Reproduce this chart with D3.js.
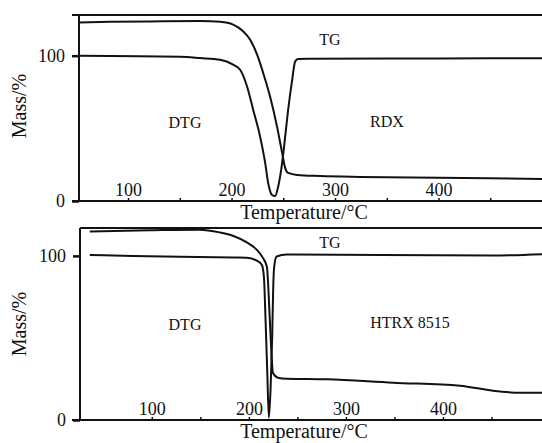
<!DOCTYPE html>
<html>
<head>
<meta charset="utf-8">
<script src="https://cdn.jsdelivr.net/npm/d3@7"></script>
<style>
  body { margin: 0; background: #fff; }
  text { font-family: "Liberation Serif", "Times New Roman", serif; fill: #111; }
</style>
</head>
<body>
<div id="chart"></div>
<script>
// x ticks every 50 degC, labels only on the hundreds
const xTicks = [100, 150, 200, 250, 300, 350, 400, 450];
const xTickLabels = [100, 200, 300, 400];
const yTicks = [0, 100];

// RDX (top panel)
const rdxTgTemp = [52.6, 82.6, 121, 169.6, 189, 201.5, 211.2, 218, 224.7, 230.5, 237.3, 244, 248.9, 251.8, 254.7, 263.4, 285.6, 324.3, 400, 500];
const rdxTgMass = [122.8, 123.3, 123.6, 123.9, 123.3, 121.4, 116.8, 111, 100.7, 88.3, 71.7, 51, 33.1, 22.8, 19.3, 17.9, 17.2, 16.6, 16, 15.2];
const rdxDtgTemp = [52.6, 150.3, 169.6, 189, 201.5, 208.3, 215, 220.9, 227.6, 232.5, 235.4, 239.2, 242.1, 245, 248.9, 251.8, 254.7, 258.6, 261.5, 264.4, 273.1, 400, 500];
const rdxDtgValue = [100, 99.3, 98.4, 97.2, 93.8, 90.3, 78.8, 62.8, 44.3, 26.2, 12.4, 4.1, 3.4, 9.7, 26.2, 44.1, 62.8, 83.4, 96.1, 97.7, 97.9, 98.1, 98.3];

// HTRX 8515 (bottom panel)
const htrxTgTemp = [36.1, 97.9, 149.5, 170.1, 183.5, 197.9, 208.2, 214.4, 218.6, 219.6, 221.6, 223.7, 224.7, 229.9, 239.2, 280.4, 348.5, 417.5, 451.5, 479.4, 502];
const htrxTgMass = [114.9, 115.6, 116, 114.3, 112.3, 108.2, 103.7, 98.8, 93.3, 85.3, 60.7, 36.2, 28.8, 25.8, 25.2, 24.8, 22.7, 20.9, 17.8, 16.6, 16.6];
const htrxDtgTemp = [36.1, 80.4, 183.5, 197.9, 208.2, 213.4, 215.5, 217.2, 218.9, 220.6, 222.4, 224, 225.1, 226.1, 228.6, 238.9, 451.5, 502];
const htrxDtgValue = [100.6, 100, 99, 98.8, 97.1, 94.5, 87.1, 60.7, 30.1, 1.4, 19.8, 50.5, 81.2, 93.4, 99.6, 100.8, 100.2, 101];

const width = 542, height = 443;
const serif = '"Liberation Serif", "Times New Roman", serif';
const svg = d3.select("#chart").append("svg")
  .attr("width", width)
  .attr("height", height)
  .attr("font-family", serif);

const panels = [
  {
    tgT: rdxTgTemp, tgV: rdxTgMass, dtgT: rdxDtgTemp, dtgV: rdxDtgValue,
    xDomain: [52.6, 500], xRange: [79, 542],
    yDomain: [0, 128], yRange: [201, 15],
    frameLeft: 72,
    labels: [
      { text: "TG", x: 330, y: 45 },
      { text: "DTG", x: 185, y: 128 },
      { text: "RDX", x: 387, y: 127 }
    ],
    titleY: 219, massY: 106
  },
  {
    tgT: htrxTgTemp, tgV: htrxTgMass, dtgT: htrxDtgTemp, dtgV: htrxDtgValue,
    xDomain: [26, 502], xRange: [80, 542],
    yDomain: [0, 117], yRange: [420, 228],
    frameLeft: 80,
    labels: [
      { text: "TG", x: 330, y: 248 },
      { text: "DTG", x: 185, y: 330 },
      { text: "HTRX 8515", x: 410, y: 328 }
    ],
    titleY: 438, massY: 324
  }
];

panels.forEach(p => {
  const x = d3.scaleLinear().domain(p.xDomain).range(p.xRange);
  const y = d3.scaleLinear().domain(p.yDomain).range(p.yRange);
  const g = svg.append("g");
  const yBottom = p.yRange[0], yTop = p.yRange[1], xLeft = p.xRange[0];

  // frame: bottom, top, left
  g.append("line").attr("x1", 72).attr("x2", 542).attr("y1", yBottom).attr("y2", yBottom)
    .attr("stroke", "#111").attr("stroke-width", 2);
  g.append("line").attr("x1", p.frameLeft).attr("x2", 542).attr("y1", yTop).attr("y2", yTop)
    .attr("stroke", "#111").attr("stroke-width", 2);
  g.append("line").attr("x1", xLeft).attr("x2", xLeft).attr("y1", yTop).attr("y2", yBottom)
    .attr("stroke", "#111").attr("stroke-width", 2);

  // x axis: small inward ticks, labels sitting inside the plot
  const xAxis = g.append("g")
    .attr("transform", `translate(0,${yBottom})`)
    .call(d3.axisTop(x).tickValues(xTicks).tickSize(3).tickPadding(2)
      .tickFormat(d => xTickLabels.includes(d) ? d : ""))
    .attr("font-family", serif);
  xAxis.select(".domain").remove();
  xAxis.selectAll("line").attr("stroke", "#111").attr("stroke-width", 1.5);
  xAxis.selectAll("text").attr("font-size", 18).attr("fill", "#111");

  // y axis
  const yAxis = g.append("g")
    .attr("transform", `translate(${xLeft},0)`)
    .call(d3.axisLeft(y).tickValues(yTicks).tickSize(7).tickPadding(7))
    .attr("font-family", serif);
  yAxis.select(".domain").remove();
  yAxis.selectAll("line").attr("stroke", "#111").attr("stroke-width", 2.5);
  yAxis.selectAll("text").attr("font-size", 18).attr("fill", "#111");

  const line = d3.line()
    .x(d => x(d[0]))
    .y(d => y(d[1]))
    .curve(d3.curveMonotoneX);

  g.append("path")
    .datum(d3.zip(p.tgT, p.tgV))
    .attr("d", line)
    .attr("fill", "none").attr("stroke", "#111").attr("stroke-width", 2);
  g.append("path")
    .datum(d3.zip(p.dtgT, p.dtgV))
    .attr("d", line)
    .attr("fill", "none").attr("stroke", "#111").attr("stroke-width", 2);

  g.selectAll(".lbl").data(p.labels).enter().append("text")
    .attr("x", d => d.x).attr("y", d => d.y)
    .attr("text-anchor", "middle")
    .attr("font-size", 16)
    .text(d => d.text);

  g.append("text")
    .attr("x", 304).attr("y", p.titleY)
    .attr("text-anchor", "middle")
    .attr("font-size", 20)
    .text("Temperature/°C");

  g.append("text")
    .attr("transform", `translate(26,${p.massY}) rotate(-90)`)
    .attr("text-anchor", "middle")
    .attr("font-size", 20)
    .text("Mass/%");
});
</script>
</body>
</html>
